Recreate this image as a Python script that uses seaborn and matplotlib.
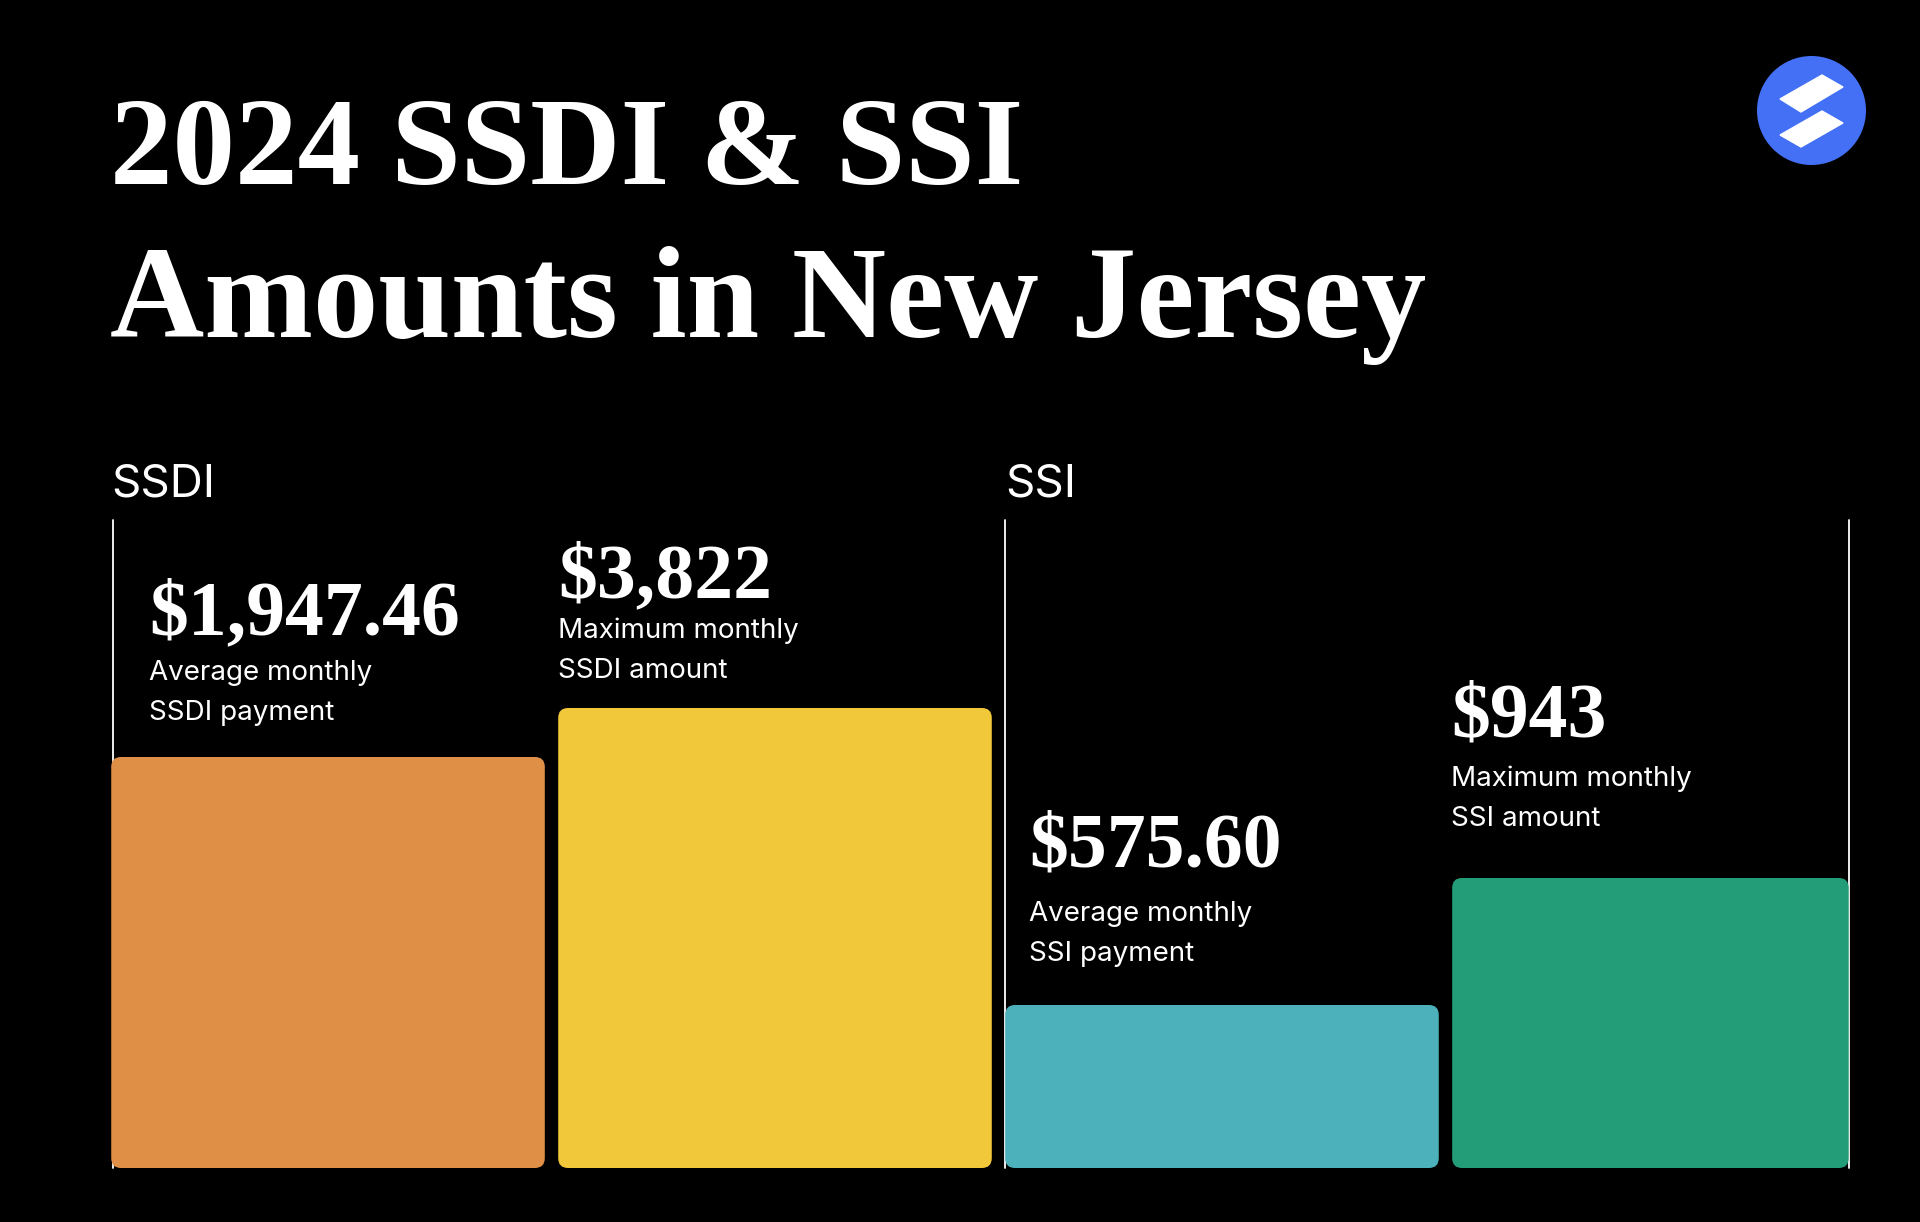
import matplotlib
matplotlib.use("Agg")
import matplotlib.pyplot as plt
import seaborn as sns
from matplotlib.patches import FancyBboxPatch, Circle, Polygon

# data
categories = ["SSDI avg", "SSDI max", "SSI avg", "SSI max"]
value_labels = ["$1,947.46", "$3,822", "$575.60", "$943"]
captions = ["Average monthly\nSSDI payment", "Maximum monthly\nSSDI amount",
            "Average monthly\nSSI payment", "Maximum monthly\nSSI amount"]
bar_heights = [411, 460, 163, 290]  # drawn heights (illustrative, not to scale)
groups = ["SSDI", "SSI"]
colors = ["#E08F47", "#F0C83A", "#4DB1BC", "#239D77"]

W, H = 1920, 1222
sns.set_theme(style="white")
plt.rcParams["font.family"] = ["Inter", "DejaVu Sans"]

fig = plt.figure(figsize=(W / 100, H / 100), dpi=100, facecolor="black")


def fx(x):
    return x / W


def fy(y):
    return 1 - y / H


# bars area: from the SSDI/SSI headers down to the bar baseline
ax = fig.add_axes([fx(111), fy(1168), fx(1850) - fx(111), fy(520) - fy(1168)])
ax.set_facecolor("black")
sns.barplot(x=categories, y=bar_heights, hue=categories, palette=colors,
            width=0.97, saturation=1, legend=False, ax=ax)
x_right = 3.405
ax.set_xlim(-0.4855, x_right)
ax.set_ylim(0, 648)

# swap the plain bars for rounded ones (last one stops at the frame line)
for p in list(ax.patches):
    x0, w, h, c = p.get_x(), p.get_width(), p.get_height(), p.get_facecolor()
    p.remove()
    w = min(w, x_right - 0.003 - x0)
    ax.add_patch(FancyBboxPatch((x0, 0), w, h,
                                boxstyle="round,pad=0,rounding_size=0.022",
                                mutation_aspect=447, fc=c, ec="none", zorder=3))

# group divider lines
for xv in [-0.481, 1.5145, x_right - 0.003]:
    ax.axvline(xv, color="white", lw=1.3, zorder=1, clip_on=False)

ax.set_xticks([])
ax.set_yticks([])
ax.set_xlabel("")
ax.set_ylabel("")
sns.despine(ax=ax, left=True, bottom=True)

# title
fig.text(fx(110), fy(184), "2024 SSDI & SSI", family="Liberation Serif",
         weight="bold", size=90, color="white", va="baseline")
fig.text(fx(110), fy(337), "Amounts in New Jersey", family="Liberation Serif",
         weight="bold", size=94, color="white", va="baseline")

# group headers
for g, x in zip(groups, [111, 1005]):
    fig.text(fx(x), fy(497), g, size=33, color="white", va="baseline")

# value labels and captions
val_pos = [(149, 634), (558, 597), (1029, 866), (1451, 736)]
cap_pos = [(149, 680), (558, 638), (1029, 921), (1451, 786)]
for v, c, (vx, vy), (cx, cy) in zip(value_labels, captions, val_pos, cap_pos):
    fig.text(fx(vx), fy(vy), v, family="Liberation Serif", weight="bold",
             size=56, color="white", va="baseline")
    for i, line in enumerate(c.split("\n")):
        fig.text(fx(cx), fy(cy + 40 * i), line, size=20, color="white",
                 va="baseline")

# logo
lax = fig.add_axes([fx(1750), fy(170), fx(120), 120 / H])
lax.set_xlim(1750, 1870)
lax.set_ylim(170, 50)
lax.axis("off")
lax.add_patch(Circle((1811.5, 110.5), 54.5, fc="#4470F6", ec="none"))
lax.add_patch(Polygon([(1780, 99), (1822, 75), (1843, 87), (1801, 112)], fc="white"))
lax.add_patch(Polygon([(1780, 135), (1822, 111), (1843, 123), (1801, 147)], fc="white"))

fig.savefig("out.png", dpi=100, facecolor="black")
